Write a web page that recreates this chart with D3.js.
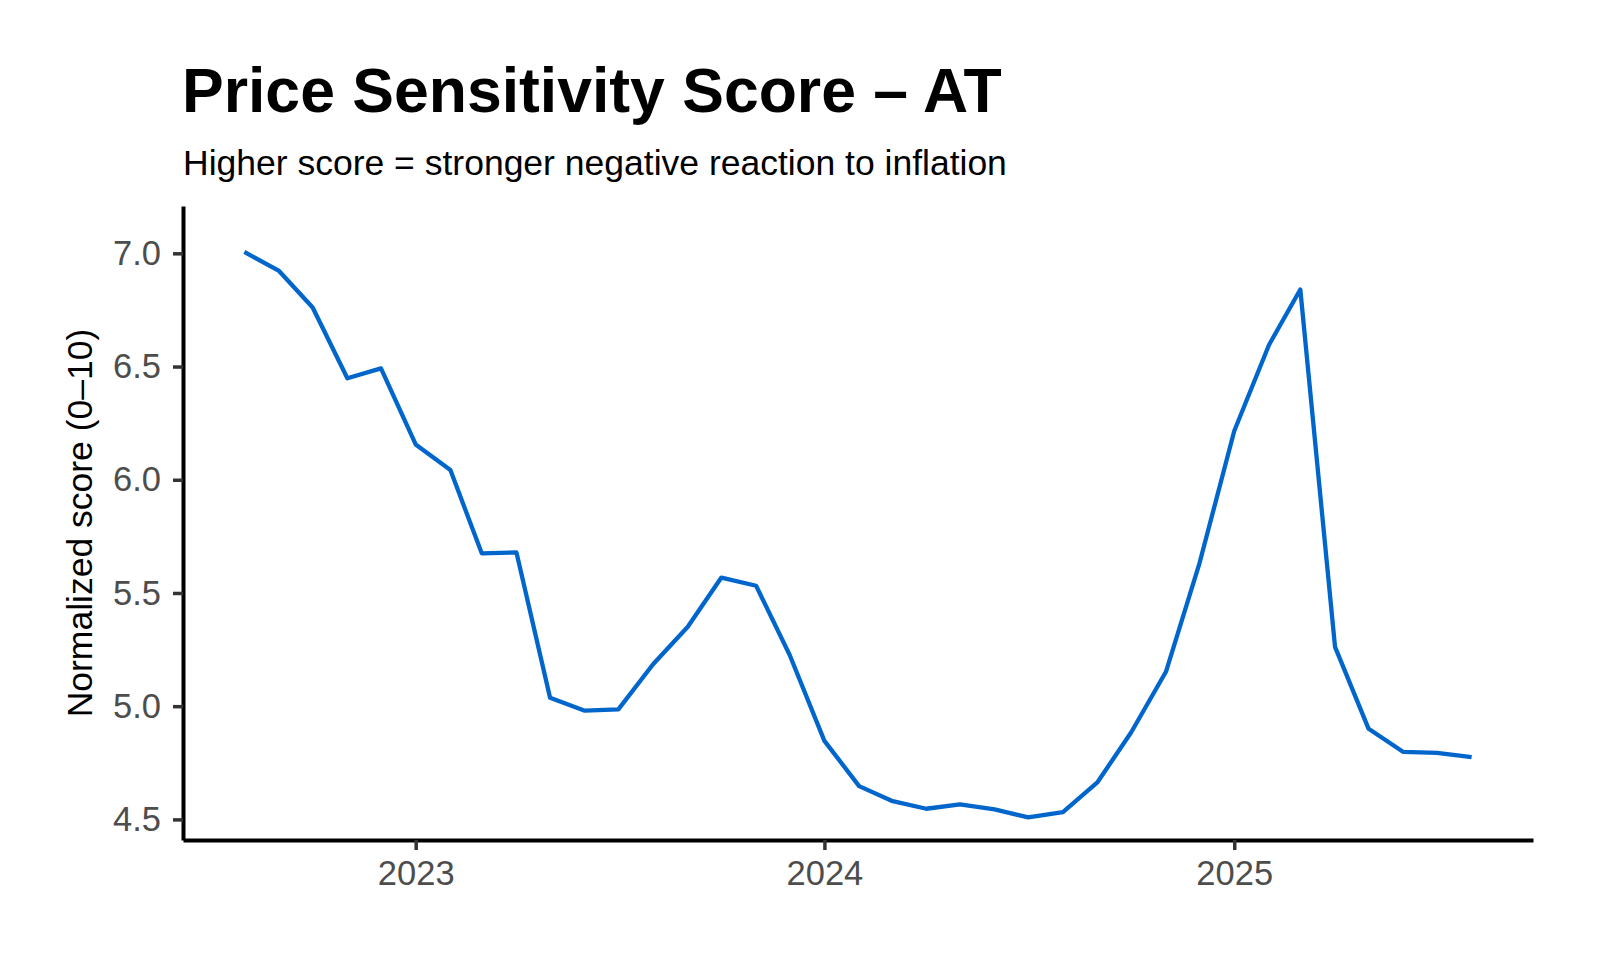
<!DOCTYPE html>
<html>
<head>
<meta charset="utf-8">
<script src="https://cdn.jsdelivr.net/npm/d3@7"></script>
<style>
  body { margin: 0; background: #fff; }
  svg { display: block; font-family: "Liberation Sans", Arial, Helvetica, sans-serif; }
</style>
</head>
<body>
<div id="chart"></div>
<script>
// Monthly score, AT
const months = [
  "2022-08", "2022-09", "2022-10", "2022-11", "2022-12",
  "2023-01", "2023-02", "2023-03", "2023-04", "2023-05", "2023-06",
  "2023-07", "2023-08", "2023-09", "2023-10", "2023-11", "2023-12",
  "2024-01", "2024-02", "2024-03", "2024-04", "2024-05", "2024-06",
  "2024-07", "2024-08", "2024-09", "2024-10", "2024-11", "2024-12",
  "2025-01", "2025-02", "2025-03", "2025-04", "2025-05", "2025-06",
  "2025-07", "2025-08"
];
const scores = [
  7.006, 6.922, 6.761, 6.448, 6.492,
  6.156, 6.043, 5.675, 5.679, 5.037, 4.980,
  4.986, 5.185, 5.351, 5.568, 5.532, 5.226,
  4.847, 4.647, 4.582, 4.547, 4.566, 4.544,
  4.509, 4.532, 4.665, 4.885, 5.152, 5.632,
  6.215, 6.595, 6.840, 5.262, 4.900, 4.798,
  4.794, 4.775
];
const yTicks = [4.5, 5.0, 5.5, 6.0, 6.5, 7.0];
const xTickYears = ["2023-01", "2024-01", "2025-01"];

const width = 1600;
const height = 960;
const margin = {left: 183, right: 67, top: 206, bottom: 120};

const parse = d3.utcParse("%Y-%m");
const data = months.map((m, i) => ({date: parse(m), score: scores[i]}));

const svg = d3.select("#chart")
  .append("svg")
  .attr("width", width)
  .attr("height", height);

// x scale with ggplot style 5% padding
const ext = d3.extent(data, d => d.date);
const pad = (ext[1] - ext[0]) * 0.05;
const xScale = d3.scaleUtc()
  .domain([new Date(+ext[0] - pad), new Date(+ext[1] + pad)])
  .range([margin.left, width - margin.right]);

const yScale = d3.scaleLinear()
  .domain([4.409, 7.209])
  .range([height - margin.bottom, margin.top]);

// title + subtitle
svg.append("text")
  .attr("x", 182)
  .attr("y", 112)
  .attr("font-size", "62.5px")
  .attr("font-weight", "bold")
  .attr("fill", "#000")
  .text("Price Sensitivity Score \u2013 AT");

svg.append("text")
  .attr("x", 183)
  .attr("y", 175)
  .attr("font-size", "35.5px")
  .attr("fill", "#000")
  .text("Higher score = stronger negative reaction to inflation");

// y axis
const yAxis = svg.append("g")
  .attr("transform", `translate(${margin.left},0)`)
  .call(d3.axisLeft(yScale)
    .tickValues(yTicks)
    .tickFormat(d3.format(".1f"))
    .tickSizeInner(10)
    .tickSizeOuter(0)
    .tickPadding(12));

// x axis
const xAxis = svg.append("g")
  .attr("transform", `translate(0,${height - margin.bottom})`)
  .call(d3.axisBottom(xScale)
    .tickValues(xTickYears.map(parse))
    .tickFormat(d3.utcFormat("%Y"))
    .tickSizeInner(10)
    .tickSizeOuter(0)
    .tickPadding(11));

[yAxis, xAxis].forEach(g => {
  g.select(".domain").attr("stroke", "#000").attr("stroke-width", 4);
  g.selectAll(".tick line").attr("stroke", "#333").attr("stroke-width", 3.5);
  g.selectAll(".tick text")
    .attr("fill", "#4d4d4d")
    .attr("font-size", "34.5px")
    .attr("font-family", "'Liberation Sans', Arial, Helvetica, sans-serif");
});

// y axis title
svg.append("text")
  .attr("transform", `translate(92,${(margin.top + height - margin.bottom) / 2}) rotate(-90)`)
  .attr("text-anchor", "middle")
  .attr("font-size", "35.5px")
  .attr("fill", "#000")
  .text("Normalized score (0\u201310)");

// line
const line = d3.line()
  .x(d => xScale(d.date))
  .y(d => yScale(d.score));

svg.append("path")
  .datum(data)
  .attr("fill", "none")
  .attr("stroke", "#0066cc")
  .attr("stroke-width", 4.3)
  .attr("stroke-linejoin", "round")
  .attr("d", line);
</script>
</body>
</html>
